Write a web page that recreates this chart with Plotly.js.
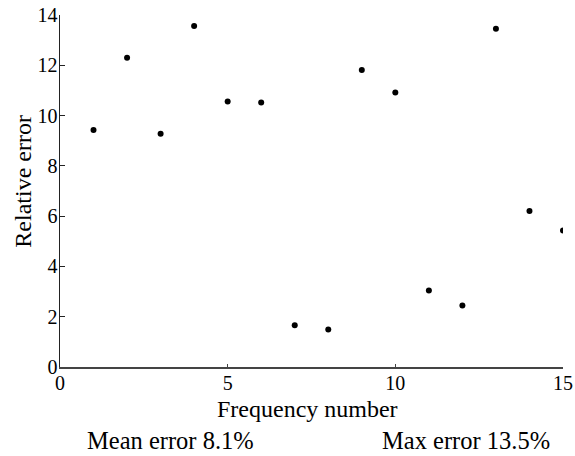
<!DOCTYPE html>
<html>
<head>
<meta charset="utf-8">
<script src="https://cdn.plot.ly/plotly-3.0.1.min.js"></script>
<style>html,body{margin:0;padding:0;background:#fff;}#chart{width:575px;height:456px;}</style>
</head>
<body>
<div id="chart"></div>
<script>
const frequencyNumber = [1, 2, 3, 4, 5, 6, 7, 8, 9, 10, 11, 12, 13, 14, 15];
const relativeError = [9.43, 12.30, 9.28, 13.56, 10.56, 10.52, 1.66, 1.49, 11.81, 10.92, 3.04, 2.45, 13.45, 6.20, 5.43];
const xTicks = [0, 5, 10, 15];
const yTicks = [0, 2, 4, 6, 8, 10, 12, 14];
const xTitle = 'Frequency number';
const yTitle = 'Relative error';
const meanLabel = 'Mean error 8.1%';
const maxLabel = 'Max error 13.5%';

const font = 'Times New Roman';

const trace = {
  x: frequencyNumber,
  y: relativeError,
  mode: 'markers',
  type: 'scatter',
  marker: {color: '#000', size: 6},
  hoverinfo: 'x+y'
};

const layout = {
  width: 575, height: 456,
  margin: {l: 60, r: 11.5, t: 15, b: 89.3},
  paper_bgcolor: '#fff', plot_bgcolor: '#fff',
  showlegend: false,
  font: {family: font, color: '#000', size: 20},
  xaxis: {
    range: [0, 15], tickvals: xTicks, ticktext: xTicks.map(String),
    showgrid: false, zeroline: false,
    showline: true, linecolor: '#444', linewidth: 2,
    ticks: 'inside', ticklen: 3, tickcolor: '#444', tickwidth: 1,
    ticklabelstandoff: -3,
    tickfont: {family: font, size: 20, color: '#000'},
    automargin: false
  },
  yaxis: {
    range: [0, 14], tickvals: yTicks, ticktext: yTicks.map(String),
    showgrid: false, zeroline: false,
    showline: true, linecolor: '#222', linewidth: 1.5,
    ticks: 'inside', ticklen: 5, tickcolor: '#222', tickwidth: 1,
    ticklabelstandoff: -3,
    tickfont: {family: font, size: 20, color: '#000'},
    automargin: false
  },
  annotations: [
    {text: xTitle, xref: 'paper', yref: 'paper', x: 0.492, y: -0.12, xanchor: 'center', yanchor: 'middle', showarrow: false, font: {family: font, size: 24, color: '#000'}},
    {text: yTitle, xref: 'paper', yref: 'paper', x: -0.0735, y: 0.5266, xanchor: 'center', yanchor: 'middle', textangle: -90, showarrow: false, font: {family: font, size: 24, color: '#000'}},
    {text: meanLabel, xref: 'paper', yref: 'paper', x: 0.22, y: -0.208, xanchor: 'center', yanchor: 'middle', showarrow: false, font: {family: font, size: 24.5, color: '#000'}},
    {text: maxLabel, xref: 'paper', yref: 'paper', x: 0.807, y: -0.208, xanchor: 'center', yanchor: 'middle', showarrow: false, font: {family: font, size: 24.5, color: '#000'}}
  ]
};

Plotly.newPlot('chart', [trace], layout, {displayModeBar: false, staticPlot: true});
</script>
</body>
</html>
